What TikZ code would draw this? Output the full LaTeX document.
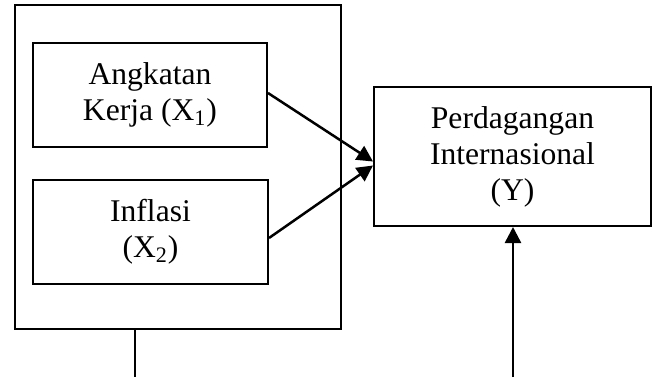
\documentclass[tikz,border=0pt]{standalone}
\usepackage{fontspec}
\setmainfont{Liberation Serif}
\usetikzlibrary{arrows.meta, calc}

\tikzset{
  varbox/.style={rectangle,draw,line width=1pt,align=center,
                 font=\fontsize{15.8}{18}\selectfont},
  arr/.style={line width=1.25pt,-{Triangle[length=8pt,width=8pt]}}
}

\begin{document}
\begin{tikzpicture}[x=0.5pt,y=-0.5pt]
    \useasboundingbox (0,0) rectangle (654,377);
    % Kelompok variabel X
    \node[varbox,minimum width=163pt,minimum height=162pt](grp)at(178,167){};
    \node[varbox,minimum width=117pt,minimum height=52pt](ak)at(150,95)
         {Angkatan\\Kerja (X\textsubscript{1})};
    \node[varbox,minimum width=117.5pt,minimum height=52pt](inf)at(150.5,232)
         {Inflasi\\(X\textsubscript{2})};
    % Variabel Y
    \node[varbox,minimum width=138.5pt,minimum height=69.5pt](pi)at(512.5,156.5)
         {Perdagangan\\Internasional\\(Y)};
    % Panah
    \draw[arr]($(ak.east)+(0,-2)$)--($(pi.west)+(0,5)$);
    \draw[arr]($(inf.east)+(0,6)$)--($(pi.west)+(0,9)$);
    \coordinate(lb)at(135,377);
    \coordinate(rb)at(513,377);
    \draw[line width=1pt](grp.south -| lb)--(lb);
    \draw[arr](rb)--(pi.south -| rb);
\end{tikzpicture}
\end{document}
